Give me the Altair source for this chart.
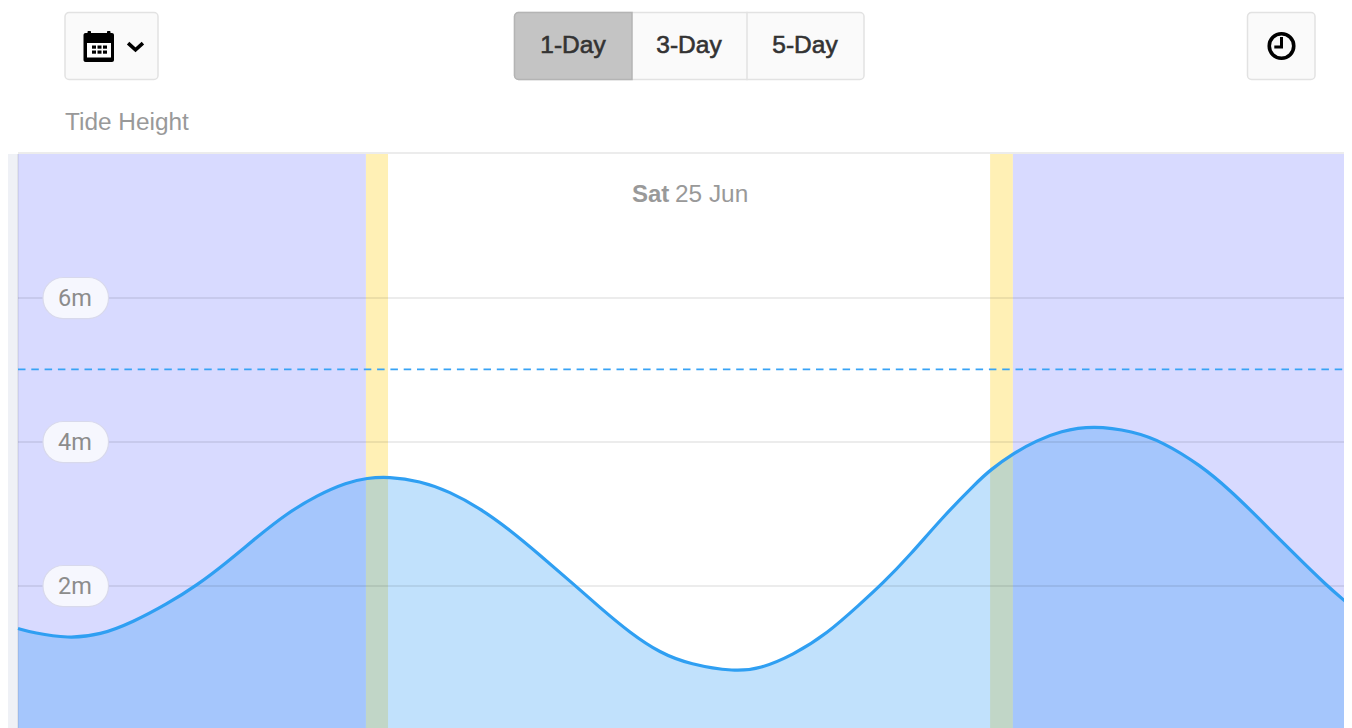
import altair as alt
import pandas as pd

# Tide curve: hour of day, height in metres
hours = [0.00, 0.27, 0.90, 1.48, 2.07, 2.68, 3.22, 3.76, 4.30, 4.84, 5.38, 5.92, 6.28, 6.66,
         7.23, 7.77, 8.31, 8.85, 9.39, 9.93, 10.47, 11.01, 11.55, 12.09, 12.90, 13.35, 13.94,
         14.56, 15.15, 15.55, 16.05, 16.64, 17.25, 17.49, 17.90, 18.33, 18.75, 19.34, 20.06,
         20.60, 21.27, 21.81, 22.35, 22.89, 23.55, 24.00]
heights = [1.41, 1.35, 1.27, 1.32, 1.50, 1.75, 2.01, 2.33, 2.68, 3.01, 3.26, 3.44, 3.50, 3.52,
           3.46, 3.31, 3.08, 2.78, 2.43, 2.07, 1.70, 1.35, 1.07, 0.91, 0.81, 0.85, 1.04,
           1.34, 1.75, 2.03, 2.43, 2.96, 3.44, 3.61, 3.84, 4.02, 4.15, 4.23, 4.15,
           4.00, 3.68, 3.33, 2.92, 2.50, 2.00, 1.71]

band_start = [-0.18, 0.0, 6.26, 6.66, 17.49, 17.90]
band_end = [0.0, 6.26, 6.66, 17.49, 17.90, 24.0]
band_color = ["#eff1f6", "#d8daff", "#fff0b5", "#ffffff", "#fff0b5", "#d8daff"]

grid_values = [2, 4, 6]
grid_labels = ["2m", "4m", "6m"]
high_tide_limit = 5.01
chart_top = 8.0

x_domain = [-0.18, 23.857]
y_domain = [0.028, 10.028]

W, H = 1336, 720
FONT = "Liberation Sans"

x_scale = alt.Scale(domain=x_domain, nice=False, zero=False)
y_scale = alt.Scale(domain=y_domain, nice=False, zero=False)
X = lambda f: alt.X(f, scale=x_scale, axis=None)
Y = lambda f: alt.Y(f, scale=y_scale, axis=None)

tide = pd.DataFrame({"h": hours, "m": heights, "base": [0] * len(hours)})
bands = pd.DataFrame({"s": band_start, "e": band_end, "c": band_color,
                      "lo": [y_domain[0]] * 6, "hi": [chart_top] * 6})
grid = pd.DataFrame({"m": grid_values, "label": grid_labels, "x0": [0] * 3, "x1": [24] * 3})
one = pd.DataFrame({"a": [0]})

layers = []
layers.append(alt.Chart(bands).mark_rect().encode(
    x=X("s:Q"), x2="e:Q", y=Y("lo:Q"), y2="hi:Q", color=alt.Color("c:N", scale=None)))
layers.append(alt.Chart(tide).mark_area(color="#2a98f4", opacity=0.29, interpolate="basis", clip=True).encode(
    x=X("h:Q"), y=Y("m:Q"), y2="base:Q"))
layers.append(alt.Chart(grid).mark_rule(color="#000000", opacity=0.1, strokeWidth=1.5).encode(
    x=X("x0:Q"), x2="x1:Q", y=Y("m:Q")))
frame = pd.DataFrame({"x0": [0], "x1": [24], "y": [chart_top + 0.014]})
layers.append(alt.Chart(frame).mark_rule(color="#000000", opacity=0.1, strokeWidth=1.5).encode(
    x=X("x0:Q"), x2="x1:Q", y=Y("y:Q")))
left = pd.DataFrame({"x": [0.0], "lo": [y_domain[0]], "hi": [chart_top]})
layers.append(alt.Chart(left).mark_rule(color="#000000", opacity=0.08, strokeWidth=1.5).encode(
    x=X("x:Q"), y=Y("lo:Q"), y2="hi:Q"))
dash = pd.DataFrame({"x0": [0], "x1": [24], "y": [high_tide_limit]})
layers.append(alt.Chart(dash).mark_rule(color="#38a3f5", strokeWidth=1.8, strokeDash=[7.5, 5.8]).encode(
    x=X("x0:Q"), x2="x1:Q", y=Y("y:Q")))
layers.append(alt.Chart(tide).mark_line(color="#2f9ff2", strokeWidth=3.2, interpolate="basis", clip=True).encode(
    x=X("h:Q"), y=Y("m:Q")))

# Height pills
layers.append(alt.Chart(grid).transform_calculate(a="datum.m + 0.285", b="datum.m - 0.285").mark_rect(
    fill="#f6f7fe", stroke="#d8d9ec", strokeWidth=1.2, cornerRadius=20).encode(
    x=alt.value(35), x2=alt.value(100.5), y=Y("a:Q"), y2="b:Q"))
layers.append(alt.Chart(grid).mark_text(font="Roboto", fontSize=23.5, color="#8c8c8c", align="center", baseline="middle", dy=1).encode(
    x=alt.value(67), y=Y("m:Q"), text="label:N"))


# --- page furniture in plot pixels ---
def box(x0, x1, y0, y1, **kw):
    return alt.Chart(one).mark_rect(**kw).encode(
        x=alt.value(x0), x2=alt.value(x1), y=alt.value(y0), y2=alt.value(y1))


def label(x, y, s, **kw):
    return alt.Chart(pd.DataFrame({"t": [s]})).mark_text(font=FONT, **kw).encode(
        x=alt.value(x), y=alt.value(y), text="t:N")


BTN = dict(fill="#fafafa", stroke="#e2e2e2", strokeWidth=1.5, cornerRadius=4)
layers.append(box(57, 150, 4.5, 71.5, **BTN))
layers.append(box(506.5, 856, 4.5, 71.5, **BTN))
layers.append(box(1239.5, 1307, 4.5, 71.5, **BTN))
layers.append(box(506.5, 624, 4.5, 71.5, fill="#c4c4c4", stroke="#b4b4b4", strokeWidth=1.5,
                  cornerRadiusTopLeft=4, cornerRadiusBottomLeft=4))
layers.append(box(739, 739.01, 4.5, 71.5, fill="#e2e2e2", stroke="#e2e2e2", strokeWidth=1.5))

for cx, s in [(565, "1-Day"), (681, "3-Day"), (797, "5-Day")]:
    layers.append(label(cx, 45, s, fontSize=24.5, color="#333333", stroke="#333333", strokeWidth=0.6,
                        align="center", baseline="alphabetic"))

# calendar icon
layers.append(box(75.5, 106, 25, 54, fill="#000000", cornerRadius=2))
layers.append(box(79, 103, 35, 49.5, fill="#ffffff"))
layers.append(box(79.5, 83, 23, 27, fill="#000000", cornerRadius=1))
layers.append(box(99, 102.5, 23, 27, fill="#000000", cornerRadius=1))
for dx in [84, 89.5, 95]:
    for dy in [37.5, 42.5]:
        layers.append(box(dx, dx + 4, dy, dy + 3.2, fill="#000000"))
layers.append(alt.Chart(one).mark_point(shape="M-1,-0.45L0,0.45L1,-0.45", filled=False, stroke="#000000",
                                       strokeWidth=3.6, size=220, opacity=1).encode(
    x=alt.value(127.5), y=alt.value(38.5)))
# clock icon
layers.append(alt.Chart(one).mark_point(shape="circle", filled=False, stroke="#000000",
                                       strokeWidth=3.6, size=600, opacity=1).encode(
    x=alt.value(1273.5), y=alt.value(38)))
layers.append(alt.Chart(one).mark_point(shape="M0,-1L0,0.1L-0.8,0.1", filled=False, stroke="#000000",
                                       strokeWidth=3, size=324, opacity=1).encode(
    x=alt.value(1273.5), y=alt.value(38)))

layers.append(label(57, 122, "Tide Height", fontSize=24.4, color="#999999", align="left", baseline="alphabetic"))
layers.append(label(624, 194, "Sat", fontSize=24, fontWeight="bold", color="#999999", align="left", baseline="alphabetic"))
layers.append(label(667, 194, "25 Jun", fontSize=24.4, color="#999999", align="left", baseline="alphabetic"))

chart = alt.layer(*layers).properties(width=W, height=H, padding=0, autosize="none", background="#ffffff").configure_view(stroke=None)

chart.save("out.html", embed_options={"renderer": "svg", "actions": False})
